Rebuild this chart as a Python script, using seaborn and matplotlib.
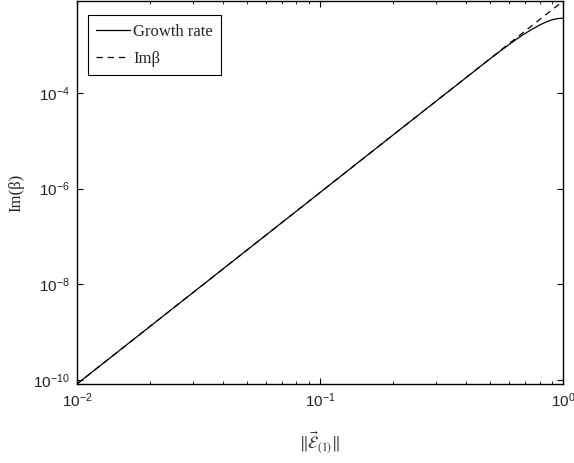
import numpy as np
import pandas as pd
import matplotlib
matplotlib.use("Agg")
import matplotlib.pyplot as plt
import matplotlib.ticker as mticker
import seaborn as sns

# values
eps = [0.01, 0.02, 0.05, 0.1, 0.2, 0.3, 0.4, 0.45, 0.5, 0.55, 0.6,
       0.65, 0.7, 0.75, 0.8, 0.85, 0.9, 0.95, 1.0]
im_beta = [8.30e-11, 1.33e-9, 5.19e-8, 8.30e-7, 1.33e-5, 6.72e-5, 2.12e-4,
           3.40e-4, 5.19e-4, 7.60e-4, 1.08e-3, 1.48e-3, 1.99e-3, 2.63e-3,
           3.40e-3, 4.33e-3, 5.45e-3, 6.76e-3, 8.30e-3]
growth = [8.30e-11, 1.33e-9, 5.19e-8, 8.30e-7, 1.33e-5, 6.72e-5, 2.11e-4,
          3.38e-4, 5.14e-4, 7.45e-4, 1.03e-3, 1.38e-3, 1.77e-3, 2.18e-3,
          2.62e-3, 3.03e-3, 3.38e-3, 3.58e-3, 3.65e-3]
xticks = [1e-2, 1e-1, 1e0]
yticks = [1e-10, 1e-8, 1e-6, 1e-4]

df = pd.DataFrame({"eps": eps, "growth": growth, "im_beta": im_beta})

sns.set_style("ticks")
plt.rcParams["font.family"] = ["Liberation Sans", "DejaVu Sans"]
plt.rcParams["xtick.direction"] = "in"
plt.rcParams["ytick.direction"] = "in"

fig = plt.figure(figsize=(5.74, 4.63), dpi=100)
ax = fig.add_axes([0.134, 0.1706, 0.847, 0.827])

sns.lineplot(data=df, x="eps", y="growth", ax=ax, color="k", lw=0.9,
             label="Growth rate")
sns.lineplot(data=df, x="eps", y="im_beta", ax=ax, color="k", lw=0.9,
             label="Im\u03b2")
ax.lines[1].set_linestyle((0, (5, 4)))

ax.set_xscale("log")
ax.set_yscale("log")
ax.set_xlim(0.01, 1.0)
ax.set_ylim(8.3e-11, 8.3e-3)
ax.set_xticks(xticks)
ax.set_yticks(yticks)
ax.xaxis.set_minor_locator(mticker.LogLocator(base=10, subs=np.arange(2, 10)))
ax.yaxis.set_minor_locator(mticker.NullLocator())
ax.tick_params(which="both", top=True, right=True, labelsize=11,
               color="k", labelcolor="#222222")
ax.tick_params(which="major", length=4.5, width=0.8, pad=5)
ax.tick_params(which="minor", length=2.5, width=0.6)
for s in ax.spines.values():
    s.set_linewidth(1.0)
    s.set_color("k")

ax.set_xlabel(r"$\|\vec{\mathcal{E}}_{(1)}\|$", math_fontfamily="stix",
              fontsize=12, color="#333333", labelpad=14)
ax.set_ylabel("Im(\u03b2)", family="Liberation Serif", fontsize=12, labelpad=6)

leg = ax.legend(loc="upper left", bbox_to_anchor=(0.0226, 0.963),
                borderaxespad=0, prop={"family": "Liberation Serif", "size": 12},
                frameon=True, fancybox=False, handlelength=2.0,
                handletextpad=0.2, labelspacing=0.68, borderpad=0.5)
leg.get_frame().set_edgecolor("k")
leg.get_frame().set_linewidth(0.8)
leg.get_frame().set_alpha(1)

fig.savefig("out.png", dpi=100)
